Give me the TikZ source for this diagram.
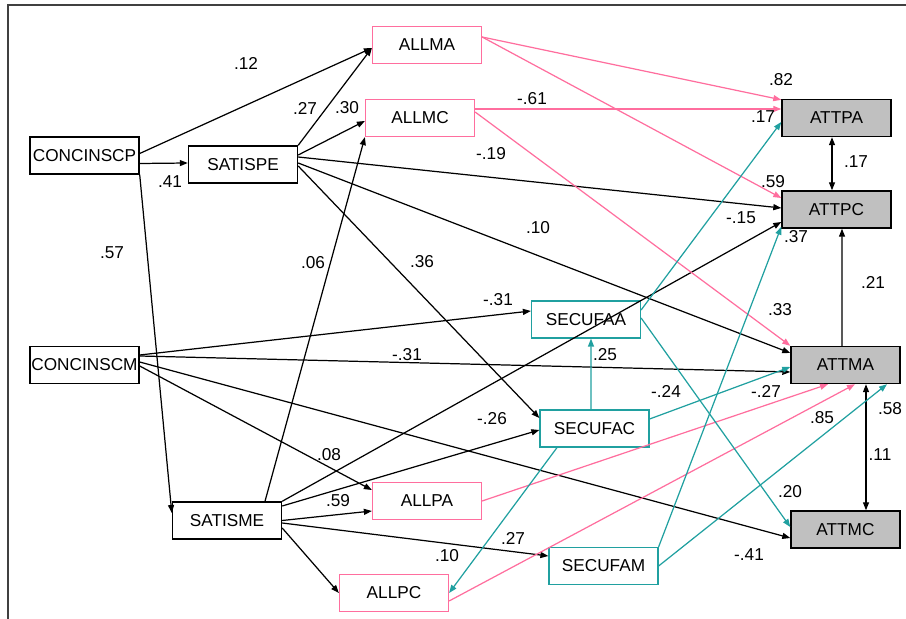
\documentclass[tikz,border=0pt]{standalone}
\usepackage{fontspec}
\setmainfont{Liberation Sans}
\usetikzlibrary{arrows.meta}
\definecolor{amospink}{RGB}{255,110,158}
\definecolor{amosteal}{RGB}{32,160,160}
\definecolor{amosgrey}{RGB}{192,192,192}
\tikzset{
    every node/.style={font=\fontsize{9.8}{11}\selectfont},
    var/.style={rectangle, draw, line width=0.8pt, minimum width=2.18cm,
    	minimum height=0.74cm, inner sep=0pt, fill=white},
    allvar/.style={var, draw=amospink, line width=0.7pt},
    secvar/.style={var, draw=amosteal, line width=0.7pt},
    attvar/.style={var, fill=amosgrey},
    wt/.style={inner sep=0pt},
    reg/.style={line width=0.7pt, -{Triangle[length=1.6mm,width=1.2mm]}},
    regp/.style={reg, amospink},
    regt/.style={reg, amosteal},
    cov/.style={line width=0.7pt,
    	{Triangle[length=1.6mm,width=1.2mm]}-{Triangle[length=1.6mm,width=1.2mm]}}
}

\begin{document}
\begin{tikzpicture}
	\useasboundingbox (0cm, 0cm) rectangle (18.12cm, 12.38cm);
	\draw[line width=0.8pt, black!75] (0.16cm, 0cm) -- (0.16cm, 12.28cm) -- (18.12cm, 12.28cm);

	\node (cp) [var] at (1.69cm, 9.27cm) {CONCINSCP};
	\node (sp) [var] at (4.86cm, 9.09cm) {SATISPE};
	\node (cm) [var] at (1.69cm, 5.08cm) {CONCINSCM};
	\node (sm) [var] at (4.54cm, 1.97cm) {SATISME};
	\node (allma) [allvar] at (8.54cm, 11.48cm) {ALLMA};
	\node (allmc) [allvar] at (8.40cm, 10.02cm) {ALLMC};
	\node (allpa) [allvar] at (8.54cm, 2.36cm) {ALLPA};
	\node (allpc) [allvar] at (7.88cm, 0.52cm) {ALLPC};
	\node (secaa) [secvar] at (11.72cm, 5.99cm) {SECUFAA};
	\node (secac) [secvar] at (11.89cm, 3.81cm) {SECUFAC};
	\node (secam) [secvar] at (12.07cm, 1.06cm) {SECUFAM};
	\node (attpa) [attvar] at (16.73cm, 10.02cm) {ATTPA};
	\node (attpc) [attvar] at (16.73cm, 8.19cm) {ATTPC};
	\node (attma) [attvar] at (16.91cm, 5.08cm) {ATTMA};
	\node (attmc) [attvar] at (16.91cm, 1.79cm) {ATTMC};

	% black paths
	\draw[reg] ([yshift=0.04cm]cp.east) -- ([yshift=-0.06cm]allma.west);
	\draw[reg] ([yshift=-0.16cm]cp.east) -- ([yshift=0.03cm]sp.west);
	\draw[reg] (cp.south east) -- ([yshift=0.15cm]sm.west);
	\draw[reg] (sp.north east) -- ([yshift=-0.06cm]allma.west);
	\draw[reg] ([yshift=0.19cm]sp.east) -- ([yshift=-0.06cm]allmc.west);
	\draw[reg] ([yshift=0.15cm]sp.east) -- ([yshift=0.03cm]attpc.west);
	\draw[reg] ([yshift=0.03cm]sp.east) -- ([yshift=0.24cm]attma.west);
	\draw[reg] ([yshift=-0.03cm]sp.east) -- ([yshift=0.21cm]secac.west);
	\draw[reg] ([xshift=0.76cm]sm.north) -- (allmc.south west);
	\draw[reg] ([yshift=0.20cm]cm.east) -- ([yshift=0.17cm]secaa.west);
	\draw[reg] ([yshift=0.18cm]cm.east) -- ([yshift=-0.14cm]attma.west);
	\draw[reg] ([yshift=0.06cm]cm.east) -- ([yshift=-0.17cm]attmc.west);
	\draw[reg] ([yshift=-0.02cm]cm.east) -- ([yshift=0.22cm]allpa.west);
	\draw[reg] (sm.north east) -- ([yshift=-0.25cm]attpc.west);
	\draw[reg] ([yshift=0.29cm]sm.east) -- ([yshift=-0.03cm]secac.west);
	\draw[reg] (sm.east) -- ([yshift=-0.20cm]allpa.west);
	\draw[reg] ([yshift=-0.05cm]sm.east) -- ([yshift=0.20cm]secam.west);
	\draw[reg] ([yshift=-0.15cm]sm.east) -- (allpc.west);
	\draw[reg] ([xshift=-0.07cm]attma.north) -- ([xshift=0.11cm]attpc.south);
	\draw[cov] ([xshift=-0.09cm]attpa.south) -- ([xshift=-0.09cm]attpc.north);
	\draw[cov] ([xshift=0.41cm]attma.south) -- ([xshift=0.41cm]attmc.north);

	% pink paths
	\draw[regp] ([yshift=0.16cm]allma.east) -- ([yshift=-0.02cm]attpa.north west);
	\draw[regp] ([yshift=0.16cm]allma.east) -- ([yshift=0.23cm]attpc.west);
	\draw[regp] ([yshift=0.18cm]allmc.east) -- ([yshift=0.18cm]attpa.west);
	\draw[regp] ([yshift=0.12cm]allmc.east) -- (attma.north west);
	\draw[regp] (allpa.east) -- ([xshift=-0.35cm]attma.south);
	\draw[regp] ([yshift=-0.16cm]allpc.east) -- ([xshift=0.19cm]attma.south);

	% teal paths
	\draw[regt] ([yshift=0.19cm]secaa.east) -- ([yshift=-0.08cm]attpa.west);
	\draw[regt] ([yshift=0.03cm]secaa.east) -- ([yshift=0.05cm]attmc.west);
	\draw[regt] ([xshift=-0.07cm]secac.north) -- ([xshift=0.10cm]secaa.south);
	\draw[regt] ([yshift=0.19cm]secac.east) -- ([yshift=-0.04cm]attma.west);
	\draw[regt] ([xshift=-0.75cm]secac.south) -- (allpc.east);
	\draw[regt] (secam.north east) -- ([yshift=0.04cm]attpc.south west);
	\draw[regt] (secam.east) -- ([xshift=0.83cm]attma.south);

	% weights
	\node (w1) [wt] at (4.92cm, 11.12cm) {.12};
	\node (w2) [wt] at (6.10cm, 10.22cm) {.27};
	\node (w3) [wt] at (6.94cm, 10.22cm) {.30};
	\node (w4) [wt] at (3.40cm, 8.74cm) {.41};
	\node (w5) [wt] at (2.24cm, 7.32cm) {.57};
	\node (w6) [wt] at (6.26cm, 7.12cm) {.06};
	\node (w7) [wt] at (8.44cm, 7.14cm) {.36};
	\node (w8) [wt] at (10.64cm, 10.40cm) {-.61};
	\node (w9) [wt] at (9.82cm, 9.30cm) {-.19};
	\node (w10) [wt] at (15.62cm, 10.78cm) {.82};
	\node (w11) [wt] at (15.26cm, 10.04cm) {.17};
	\node (w12) [wt] at (17.12cm, 9.14cm) {.17};
	\node (w13) [wt] at (15.46cm, 8.74cm) {.59};
	\node (w14) [wt] at (14.82cm, 8.02cm) {-.15};
	\node (w15) [wt] at (15.92cm, 7.64cm) {.37};
	\node (w16) [wt] at (10.76cm, 7.82cm) {.10};
	\node (w17) [wt] at (17.46cm, 6.74cm) {.21};
	\node (w18) [wt] at (15.60cm, 6.18cm) {.33};
	\node (w19) [wt] at (9.96cm, 6.38cm) {-.31};
	\node (w20) [wt] at (8.14cm, 5.28cm) {-.31};
	\node (w21) [wt] at (12.10cm, 5.28cm) {.25};
	\node (w22) [wt] at (13.32cm, 4.56cm) {-.24};
	\node (w23) [wt] at (15.32cm, 4.56cm) {-.27};
	\node (w24) [wt] at (16.44cm, 4.02cm) {.85};
	\node (w25) [wt] at (17.80cm, 4.20cm) {.58};
	\node (w26) [wt] at (17.60cm, 3.28cm) {.11};
	\node (w27) [wt] at (15.80cm, 2.54cm) {.20};
	\node (w28) [wt] at (14.98cm, 1.28cm) {-.41};
	\node (w29) [wt] at (10.26cm, 1.62cm) {.27};
	\node (w30) [wt] at (9.84cm, 4.00cm) {-.26};
	\node (w31) [wt] at (6.58cm, 3.28cm) {.08};
	\node (w32) [wt] at (6.76cm, 2.36cm) {.59};
	\node (w33) [wt] at (8.94cm, 1.26cm) {.10};
\end{tikzpicture}
\end{document}
